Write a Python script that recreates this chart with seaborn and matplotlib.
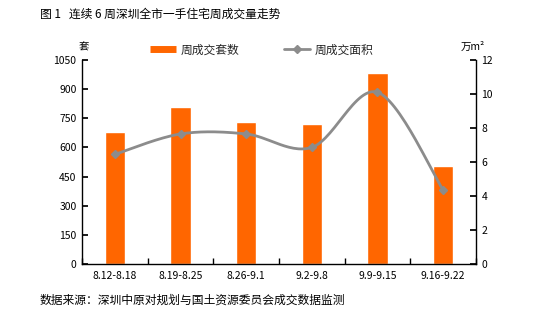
import numpy as np
import pandas as pd
import matplotlib
matplotlib.use("Agg")
import matplotlib.pyplot as plt
from matplotlib.lines import Line2D
import seaborn as sns

weeks = ["8.12-8.18", "8.19-8.25", "8.26-9.1", "9.2-9.8", "9.9-9.15", "9.16-9.22"]
units = [678, 810, 732, 719, 985, 506]          # 周成交套数 (套)
area = [6.45, 7.65, 7.65, 6.86, 10.1, 4.35]     # 周成交面积 (万㎡)

title = "图 1   连续 6 周深圳全市一手住宅周成交量走势"
source = "数据来源：深圳中原对规划与国土资源委员会成交数据监测"

sns.set_theme(style="white")
plt.rcParams["font.family"] = ["Noto Sans CJK SC", "DejaVu Sans"]

ORANGE = "#FF6600"
GRAY = "#8C8C8C"

fig = plt.figure(figsize=(5.49, 3.17), dpi=100)
ax = fig.add_axes([82/549, 1-264/317, (476-82)/549, (264-60)/317])

df = pd.DataFrame({"week": weeks, "units": units, "area": area})
sns.barplot(data=df, x="week", y="units", color=ORANGE, saturation=1,
            width=0.31, ax=ax)
ax.set_xlim(-0.5, 5.5)
ax.set_ylim(0, 1050)
ax.set_yticks(np.arange(0, 1051, 150))
ax.set_xlabel("")
ax.set_ylabel("")

ax2 = ax.twinx()
# smooth curve through the data points (Catmull-Rom style, like Excel smoothing)
x = np.arange(len(area), dtype=float)
y = np.array(area, dtype=float)
px = np.concatenate([[x[0]], x, [x[-1]]])
py = np.concatenate([[y[0]], y, [y[-1]]])
sx, sy = [], []
for i in range(1, len(px) - 2):
    p0, p1, p2, p3 = py[i-1], py[i], py[i+1], py[i+2]
    q0, q1, q2, q3 = px[i-1], px[i], px[i+1], px[i+2]
    t = np.linspace(0, 1, 30)
    def cr(a0, a1, a2, a3):
        return 0.5 * ((2*a1) + (-a0 + a2)*t + (2*a0 - 5*a1 + 4*a2 - a3)*t**2 + (-a0 + 3*a1 - 3*a2 + a3)*t**3)
    sx.extend(cr(q0, q1, q2, q3))
    sy.extend(cr(p0, p1, p2, p3))
curve = pd.DataFrame({"x": sx, "y": sy})
sns.lineplot(data=curve, x="x", y="y", ax=ax2, color=GRAY, linewidth=2, sort=False)
ax2.plot(x, y, linestyle="none", marker="D", markersize=4.5, color=GRAY)
ax2.set_ylim(0, 12)
ax2.set_yticks(np.arange(0, 13, 2))
ax2.set_xlabel("")
ax2.set_ylabel("")

for a in (ax, ax2):
    for s in a.spines.values():
        s.set_visible(False)
ax.spines["left"].set_visible(True)
ax.spines["bottom"].set_visible(True)
ax2.spines["right"].set_visible(True)
for s in ("left", "bottom"):
    ax.spines[s].set_color("black")
    ax.spines[s].set_linewidth(1)
ax2.spines["right"].set_color("black")
ax2.spines["right"].set_linewidth(1)

ax.set_xticks(np.arange(len(weeks)))
ax.set_xticklabels(weeks)
ax.set_xticks(np.arange(-0.5, 5.6, 1), minor=True)
ax.tick_params(axis="x", which="major", length=0, labelsize=7.5, pad=5, colors="black")
ax.tick_params(axis="x", which="minor", direction="in", length=4, color="black", bottom=True)
ax.tick_params(axis="y", direction="in", length=4, left=True, labelsize=7.5, pad=4, colors="black")
ax2.tick_params(axis="y", direction="in", length=4, right=True, labelsize=7.5, pad=4, colors="black")
for lab in ax.get_xticklabels() + ax.get_yticklabels() + ax2.get_yticklabels():
    lab.set_color("black")

fig.text(40/549, 1-14/317, title, fontsize=8.5, va="center", ha="left", color="black")
fig.text(40/549, 1-300/317, source, fontsize=8.5, va="center", ha="left", color="black")
fig.text(84/549, 1-47/317, "套", fontsize=7.5, va="center", ha="center", color="black")
fig.text(473/549, 1-47/317, "万m²", fontsize=7.5, va="center", ha="center", color="black")

handles = [Line2D([0], [0], color=ORANGE, linewidth=5, solid_capstyle="butt"),
           Line2D([0], [0], color=GRAY, linewidth=2, marker="D", markersize=4)]
fig.legend(handles, ["周成交套数", "周成交面积"], loc="center", bbox_to_anchor=(262/549, 1-50/317),
           ncol=2, frameon=False, fontsize=8.5, handlelength=2.2, handletextpad=0.4,
           columnspacing=3.8)

fig.savefig("out.png", dpi=100)
